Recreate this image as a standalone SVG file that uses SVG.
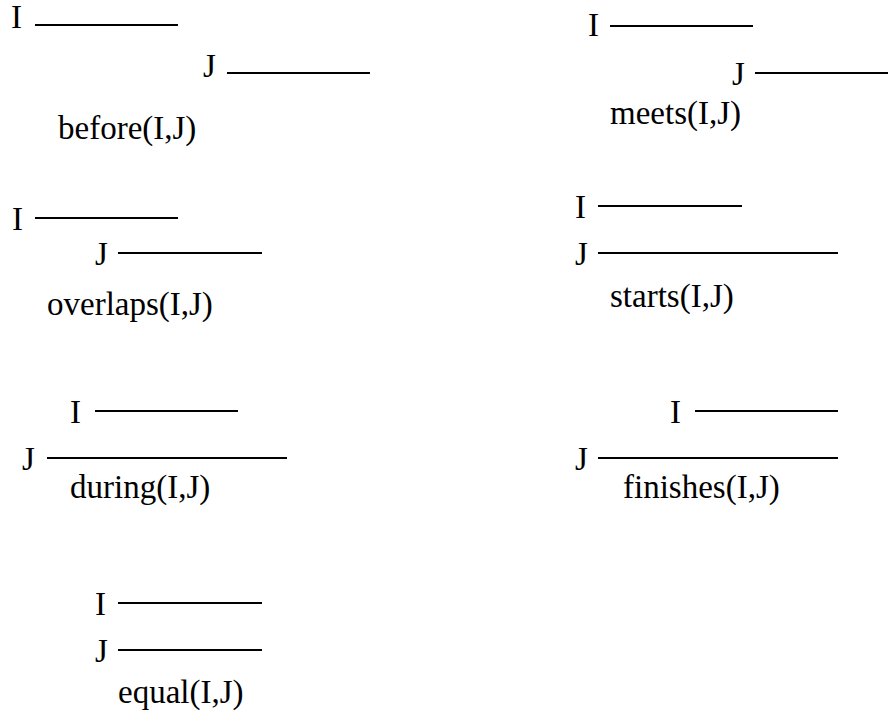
<svg xmlns="http://www.w3.org/2000/svg" width="888" height="721" viewBox="0 0 888 721">
  <style>
    .t { font-family: "Liberation Serif", "Times New Roman", Times, "DejaVu Serif", serif; font-size: 33px; fill: #000; }
    line { stroke: #000; stroke-width: 2.2; }
  </style>
  <rect width="888" height="721" fill="#fff"/>

  <g class="t" font-family="Liberation Serif, Times New Roman, DejaVu Serif, serif" font-size="33">
  <!-- before(I,J) -->
  <g id="before">
    <text x="11" y="28">I</text>
    <line x1="35" y1="25" x2="178" y2="25"/>
    <text x="203" y="77">J</text>
    <line x1="227" y1="73" x2="370" y2="73"/>
    <text x="58" y="139">before(I,J)</text>
  </g>

  <!-- meets(I,J) -->
  <g id="meets">
    <text x="588" y="36">I</text>
    <line x1="610" y1="26" x2="753" y2="26"/>
    <text x="732" y="85">J</text>
    <line x1="755" y1="73" x2="888" y2="73"/>
    <text x="610" y="124">meets(I,J)</text>
  </g>

  <!-- overlaps(I,J) -->
  <g id="overlaps">
    <text x="12" y="230">I</text>
    <line x1="35" y1="218" x2="178" y2="218"/>
    <text x="95" y="265">J</text>
    <line x1="118" y1="253" x2="262" y2="253"/>
    <text x="47" y="315">overlaps(I,J)</text>
  </g>

  <!-- starts(I,J) -->
  <g id="starts">
    <text x="575" y="218">I</text>
    <line x1="598" y1="206" x2="742" y2="206"/>
    <text x="575" y="265">J</text>
    <line x1="598" y1="253" x2="838" y2="253"/>
    <text x="610" y="307">starts(I,J)</text>
  </g>

  <!-- during(I,J) -->
  <g id="during">
    <text x="70" y="423">I</text>
    <line x1="95" y1="411" x2="238" y2="411"/>
    <text x="22" y="470">J</text>
    <line x1="47" y1="458" x2="287" y2="458"/>
    <text x="70" y="498">during(I,J)</text>
  </g>

  <!-- finishes(I,J) -->
  <g id="finishes">
    <text x="670" y="423">I</text>
    <line x1="695" y1="411" x2="838" y2="411"/>
    <text x="575" y="470">J</text>
    <line x1="598" y1="458" x2="838" y2="458"/>
    <text x="623" y="498">finishes(I,J)</text>
  </g>

  <!-- equal(I,J) -->
  <g id="equal">
    <text x="95" y="615">I</text>
    <line x1="118" y1="603" x2="262" y2="603"/>
    <text x="95" y="662">J</text>
    <line x1="118" y1="650" x2="262" y2="650"/>
    <text x="118" y="703">equal(I,J)</text>
  </g>
  </g>
</svg>
